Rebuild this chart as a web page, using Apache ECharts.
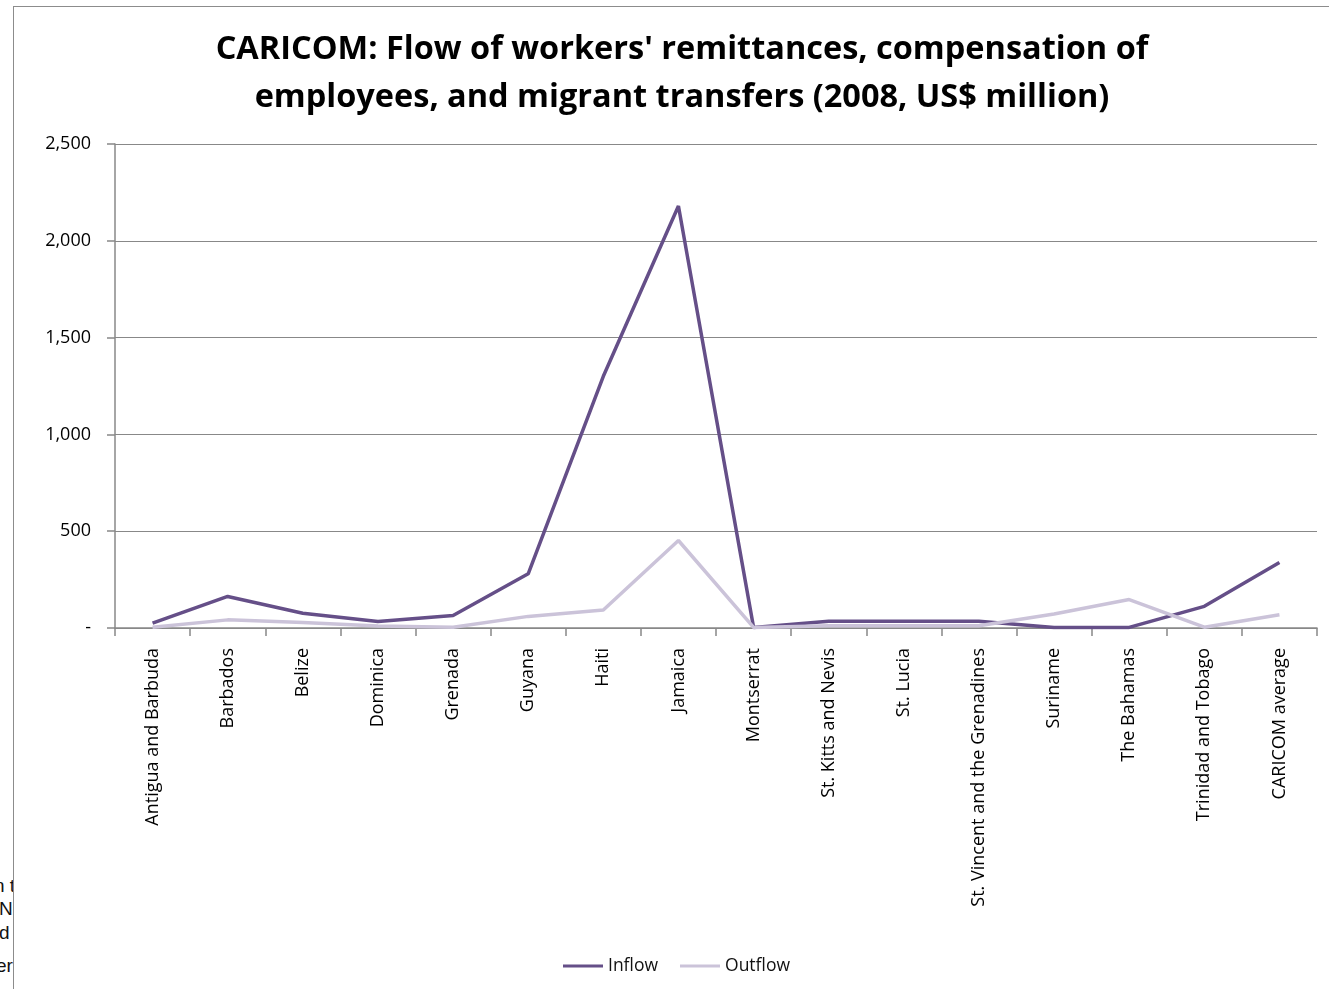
<!DOCTYPE html>
<html><head><meta charset="utf-8">
<script src="https://cdn.jsdelivr.net/npm/echarts@6/dist/echarts.min.js"></script>
<style>
html,body{margin:0;padding:0;background:#fff;width:1329px;height:989px;overflow:hidden;}
#frame{position:absolute;left:13px;top:6px;width:1330px;height:1000px;border-left:1.5px solid #8c8c8c;border-top:1.5px solid #8c8c8c;box-sizing:border-box;}
#chart{position:absolute;left:0;top:0;width:1329px;height:989px;}
#clip{position:absolute;left:0;top:860px;width:13px;height:129px;overflow:hidden;font-family:"Liberation Sans",Arial,sans-serif;font-size:19px;color:#111;}
#clip div{position:absolute;white-space:nowrap;}
</style></head>
<body>
<div id="clip">
<div style="top:15px;left:-6px">n t</div>
<div style="top:38px;left:-1px">No</div>
<div style="top:62px;left:-1px">d</div>
<div style="top:95px;left:-4px">er</div>
</div>
<div id="chart"></div>
<div id="frame"></div>
<script>
const categories = ["Antigua and Barbuda","Barbados","Belize","Dominica","Grenada","Guyana","Haiti","Jamaica","Montserrat","St. Kitts and Nevis","St. Lucia","St. Vincent and the Grenadines","Suriname","The Bahamas","Trinidad and Tobago","CARICOM average"];
const inflow = [25, 163, 76, 34, 65, 280, 1300, 2180, 3, 35, 35, 35, 3, 3, 112, 338];
const outflow = [4, 42, 28, 10, 4, 60, 93, 452, 3, 12, 12, 12, 72, 147, 4, 68];
const yTicks = [0, 500, 1000, 1500, 2000, 2500];

const chart = echarts.init(document.getElementById('chart'));
const font = '"Open Sans","Liberation Sans",sans-serif';
chart.setOption({
  backgroundColor: 'transparent',
  animation: false,
  title: {
    text: "CARICOM: Flow of workers' remittances, compensation of\nemployees, and migrant transfers (2008, US$ million)",
    left: 677, textAlign: 'center', top: 21,
    textStyle: {fontFamily: '"Open Sans",sans-serif', fontWeight: 'bold', fontSize: 32.5, lineHeight: 48, color: '#000'}
  },
  legend: {
    top: 952, left: 558, itemWidth: 40, itemHeight: 3, itemGap: 22,
    icon: 'rect',
    textStyle: {fontFamily: font, fontSize: 17.5, color: '#111'},
    data: ['Inflow', 'Outflow']
  },
  grid: {left: 115, right: 12, top: 144, bottom: 361, containLabel: false},
  xAxis: {
    type: 'category', data: categories, boundaryGap: true,
    axisLine: {lineStyle: {color: '#888', width: 1.5}},
    axisTick: {show: true, alignWithLabel: false, length: 8, lineStyle: {color: '#888', width: 1.5}},
    axisLabel: {rotate: 90, interval: 0, fontFamily: font, fontSize: 18, color: '#000', margin: 20}
  },
  yAxis: {
    type: 'value', min: 0, max: 2500, interval: 500,
    axisLine: {show: true, lineStyle: {color: '#888', width: 1.5}},
    axisTick: {show: true, length: 8, lineStyle: {color: '#888', width: 1.5}},
    splitLine: {lineStyle: {color: '#888', width: 1.2}},
    axisLabel: {fontFamily: font, fontSize: 18, color: '#000', margin: 24,
      formatter: v => v === 0 ? '-' : v.toLocaleString('en-US')}
  },
  series: [
    {name: 'Inflow', type: 'line', data: inflow, symbol: 'none', lineStyle: {color: '#654f88', width: 3.5}, itemStyle: {color: '#654f88'}},
    {name: 'Outflow', type: 'line', data: outflow, symbol: 'none', lineStyle: {color: '#cbc3d9', width: 3.5}, itemStyle: {color: '#cbc3d9'}}
  ]
});
</script>
</body></html>
